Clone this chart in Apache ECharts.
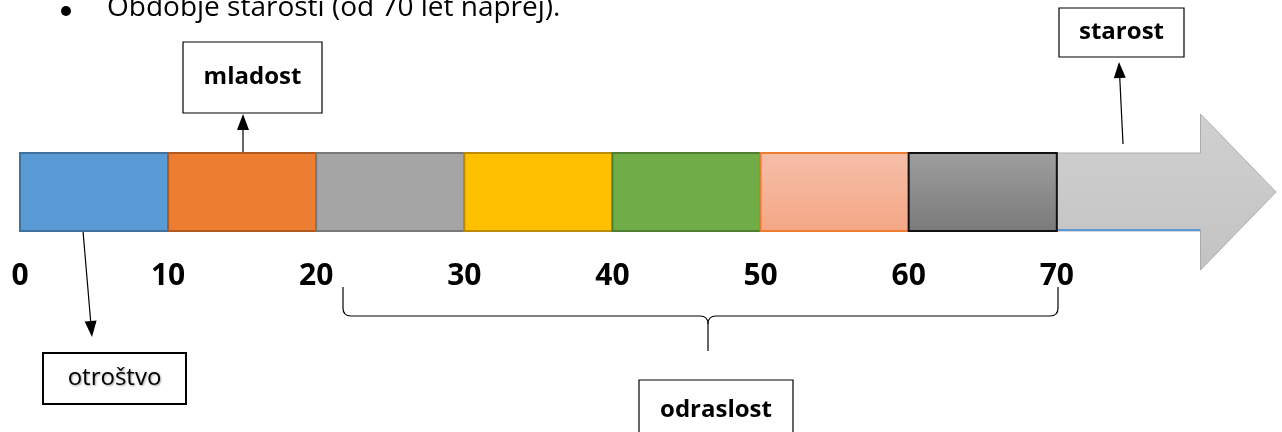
<!DOCTYPE html>
<html>
<head>
<meta charset="utf-8">
<script src="https://cdn.jsdelivr.net/npm/echarts@6/dist/echarts.min.js"></script>
<style>
  html, body { margin: 0; padding: 0; background: #fff; }
  #chart { width: 1282px; height: 432px; }
</style>
</head>
<body>
<div id="chart"></div>
<script>
// starost po obdobjih (leta)
const segStart = [0, 10, 20, 30, 40, 50, 60];
const segEnd = [10, 20, 30, 40, 50, 60, 70];
// puščica za starost: začetek, začetek konice, vrh
const arrowStart = 70;
const arrowHead = 79.7;
const arrowTip = 84.8;
const tickValues = [0, 10, 20, 30, 40, 50, 60, 70];

const palette = [
  { fill: '#5b9bd5', stroke: '#41719c' },
  { fill: '#ed7d31', stroke: '#ae5a21' },
  { fill: '#a5a5a5', stroke: '#787878' },
  { fill: '#ffc000', stroke: '#bc8c00' },
  { fill: '#70ad47', stroke: '#507e32' },
  { fill: ['#f6bfa9', '#f4a784'], stroke: '#ed7d31' },
  { fill: ['#9e9e9e', '#7a7a7a'], stroke: '#111111' }
];

const myChart = echarts.init(document.getElementById('chart'));

const fillOf = (c) => {
  if (Array.isArray(c)) {
    return new echarts.graphic.LinearGradient(0, 0, 0, 1, [
      { offset: 0, color: c[0] },
      { offset: 1, color: c[1] }
    ]);
  }
  return c;
};

// puščica (črta + trikotnik)
const arrow = (x1, y1, x2, y2) => {
  const len = 16, half = 6;
  const dx = x2 - x1, dy = y2 - y1;
  const d = Math.sqrt(dx * dx + dy * dy);
  const ux = dx / d, uy = dy / d;
  const bx = x2 - ux * len, by = y2 - uy * len;
  return [
    {
      type: 'line',
      shape: { x1: x1, y1: y1, x2: bx, y2: by },
      style: { stroke: '#000', lineWidth: 1.2 }
    },
    {
      type: 'polygon',
      shape: {
        points: [
          [x2, y2],
          [bx - uy * half, by + ux * half],
          [bx + uy * half, by - ux * half]
        ]
      },
      style: { fill: '#000' }
    }
  ];
};

const box = (x, y, w, h, text, bold, lw) => ({
  type: 'group',
  children: [
    {
      type: 'rect',
      shape: { x: x, y: y, width: w, height: h },
      style: { fill: '#fff', stroke: '#000', lineWidth: lw || 1.2 }
    },
    {
      type: 'text',
      x: x + w / 2,
      y: y + h / 2,
      style: {
        text: text,
        align: 'center',
        verticalAlign: 'middle',
        font: (bold ? 'bold ' : '') + '24px "Open Sans"',
        fill: '#000',
        textShadowColor: bold ? 'transparent' : 'rgba(0,0,0,0.35)',
        textShadowBlur: bold ? 0 : 2,
        textShadowOffsetX: bold ? 0 : 1,
        textShadowOffsetY: bold ? 0 : 1
      }
    }
  ]
});

// zavit oklepaj iz črt in krivulj
const braceStyle = { stroke: '#000', lineWidth: 1.2, fill: 'none' };
const brace = (xl, xm, xr, yTop, yMid, yBot) => {
  const r = 8;
  const seg = (x1, y1, x2, y2) => ({ type: 'line', shape: { x1, y1, x2, y2 }, style: braceStyle });
  const curve = (x1, y1, cx, cy, x2, y2) => ({
    type: 'bezierCurve',
    shape: { x1, y1, cpx1: cx, cpy1: cy, x2, y2 },
    style: braceStyle
  });
  return [
    seg(xl, yTop, xl, yMid - r),
    curve(xl, yMid - r, xl, yMid, xl + r, yMid),
    seg(xl + r, yMid, xm - r, yMid),
    curve(xm - r, yMid, xm, yMid, xm, yMid + r),
    curve(xm + r, yMid, xm, yMid, xm, yMid + r),
    seg(xm, yMid + r, xm, yBot),
    seg(xm + r, yMid, xr - r, yMid),
    curve(xr - r, yMid, xr, yMid, xr, yMid - r),
    seg(xr, yMid - r, xr, yTop)
  ];
};

const segData = segStart.map((s, i) => [s, segEnd[i], i]);

let option = {
  animation: false,
  grid: {
    left: 20,
    right: 1.6,
    top: 153,
    height: 78
  },
  xAxis: {
    type: 'value',
    min: 0,
    max: 85,
    interval: 10,
    axisLine: { show: false },
    axisTick: { show: false },
    splitLine: { show: false },
    axisLabel: {
      margin: 30,
      color: '#000',
      fontFamily: 'Open Sans',
      fontWeight: 'bold',
      fontSize: 30,
      formatter: (v) => (tickValues.indexOf(v) !== -1 ? String(v) : '')
    }
  },
  yAxis: {
    type: 'value',
    min: 0,
    max: 1,
    show: false
  },
  series: [
    {
      type: 'custom',
      z: 1,
      data: [[arrowStart, arrowHead, arrowTip]],
      encode: { x: [0, 1, 2] },
      renderItem: (params, api) => {
        const a = api.value(0), h = api.value(1), t = api.value(2);
        const pts = [
          api.coord([a, 1]),
          api.coord([h, 1]),
          api.coord([h, 1.5]),
          api.coord([t, 0.5]),
          api.coord([h, -0.5]),
          api.coord([h, 0]),
          api.coord([a, 0])
        ];
        return {
          type: 'group',
          children: [
            {
              type: 'polygon',
              shape: { points: pts },
              style: {
                fill: fillOf(['#d0d0d0', '#c3c3c3']),
                stroke: '#acacac',
                lineWidth: 1
              }
            },
            {
              type: 'line',
              shape: { x1: pts[6][0], y1: pts[6][1] - 1, x2: pts[5][0], y2: pts[5][1] - 1 },
              style: { stroke: '#5b9bd5', lineWidth: 2 }
            }
          ]
        };
      }
    },
    {
      type: 'custom',
      z: 2,
      data: segData,
      encode: { x: [0, 1] },
      renderItem: (params, api) => {
        const p0 = api.coord([api.value(0), 1]);
        const p1 = api.coord([api.value(1), 0]);
        const c = palette[api.value(2)];
        return {
          type: 'rect',
          shape: { x: p0[0], y: p0[1], width: p1[0] - p0[0], height: p1[1] - p0[1] },
          style: { fill: fillOf(c.fill), stroke: c.stroke, lineWidth: 2 }
        };
      }
    }
  ],
  graphic: [
    {
      type: 'circle',
      shape: { cx: 66, cy: 11, r: 5 },
      style: { fill: '#000' }
    },
    {
      type: 'text',
      x: 107,
      y: 8,
      style: {
        text: 'Obdobje starosti (od 70 let naprej).',
        font: '28px "Open Sans"',
        fill: '#000',
        verticalAlign: 'middle'
      }
    },
    box(183, 42, 139, 71, 'mladost', true),
    box(1059, 8, 125, 49, 'starost', true),
    box(43, 353, 143, 51, 'otroštvo', false, 2),
    box(639, 380, 154, 60, 'odraslost', true),
    ...arrow(243, 153, 243, 114),
    ...arrow(1123, 144, 1119, 62),
    ...arrow(83, 231, 92, 337),
    ...brace(343, 708, 1058, 287, 316, 351)
  ]
};

option && myChart.setOption(option);
</script>
</body>
</html>
